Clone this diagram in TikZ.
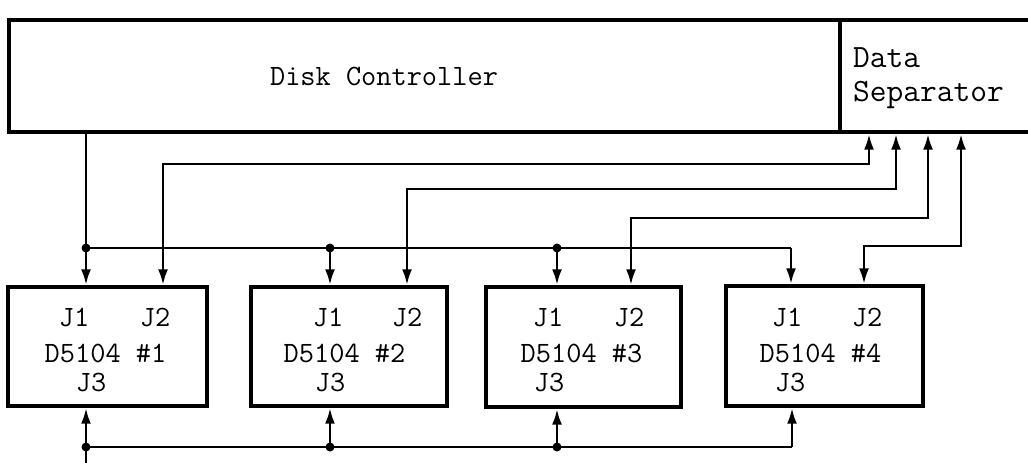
\documentclass[tikz,border=0pt]{standalone}
\usetikzlibrary{arrows.meta}
\begin{document}
\begin{tikzpicture}[x=1pt,y=-1pt,
  boxst/.style={draw,line width=3.4pt,rectangle,inner sep=0pt},
  lbl/.style={inner sep=0pt,font=\fontsize{29.5}{32}\selectfont\ttfamily},
  lblds/.style={inner sep=0pt,font=\fontsize{32.5}{36}\selectfont\ttfamily,anchor=west},
  wire/.style={line width=2.9pt},
  tip/.style={-{Latex[length=16pt,width=10pt]}},
  both/.style={{Latex[length=16pt,width=10pt]}-{Latex[length=16pt,width=10pt]}},
  dot/.style={circle,fill,inner sep=0pt,minimum size=9pt}
]
\useasboundingbox (0,0) rectangle (1028,463);
% top boxes
\node[boxst,minimum width=831pt,minimum height=112pt] (dc) at (424.5,76) {};
\node[boxst,minimum width=200pt,minimum height=112pt] (ds) at (940,76) {};
\node[lbl] (dct) at (384,76) {Disk Controller};
\node[lblds] (dst1) at (853,58) {Data};
\node[lblds] (dst2) at (853,95) {Separator};
% drive boxes
\node[boxst,minimum width=199pt,minimum height=119pt] (b1) at (107.5,346.5) {};
\node[boxst,minimum width=196pt,minimum height=119pt] (b2) at (349,346.5) {};
\node[boxst,minimum width=195pt,minimum height=120pt] (b3) at (583.5,347) {};
\node[boxst,minimum width=197pt,minimum height=120pt] (b4) at (824.5,346) {};
% labels
\node[lbl] (b1j1) at (74,317) {J1};
\node[lbl] (b1j2) at (155,317) {J2};
\node[lbl] (b1n) at (105.5,353) {D5104 \#1};
\node[lbl] (b1j3) at (91,382) {J3};
\node[lbl] (b2j1) at (328,317) {J1};
\node[lbl] (b2j2) at (407,317) {J2};
\node[lbl] (b2n) at (344.5,353) {D5104 \#2};
\node[lbl] (b2j3) at (330,382) {J3};
\node[lbl] (b3j1) at (548,317) {J1};
\node[lbl] (b3j2) at (629,317) {J2};
\node[lbl] (b3n) at (581.5,353) {D5104 \#3};
\node[lbl] (b3j3) at (549,382) {J3};
\node[lbl] (b4j1) at (787,317) {J1};
\node[lbl] (b4j2) at (867,317) {J2};
\node[lbl] (b4n) at (820.5,353) {D5104 \#4};
\node[lbl] (b4j3) at (790,382) {J3};
% J1 bus
\coordinate (ja) at (86,248);
\coordinate (jb) at (330,248);
\coordinate (jc) at (557,248);
\coordinate (jd) at (791,248);
\draw[wire] (dc.south -| ja) -- (ja) -- (jd);
\draw[wire,tip] (ja) -- (b1.north -| ja);
\draw[wire,tip] (jb) -- (b2.north -| jb);
\draw[wire,tip] (jc) -- (b3.north -| jc);
\draw[wire,tip] (jd) -- (b4.north -| jd);
\node[dot] (da) at (ja) {};
\node[dot] (db) at (jb) {};
\node[dot] (dcc) at (jc) {};
% J2 lines
\coordinate (s1) at (869,164);
\coordinate (s2) at (896,189);
\coordinate (s3) at (928,218);
\coordinate (s4) at (961,246);
\coordinate (e1) at (163,164);
\coordinate (e2) at (407,189);
\coordinate (e3) at (631,218);
\coordinate (e4) at (864,246);
\draw[wire,both] (ds.south -| s1) -- (s1) -- (e1) -- (b1.north -| e1);
\draw[wire,both] (ds.south -| s2) -- (s2) -- (e2) -- (b2.north -| e2);
\draw[wire,both] (ds.south -| s3) -- (s3) -- (e3) -- (b3.north -| e3);
\draw[wire,both] (ds.south -| s4) -- (s4) -- (e4) -- (b4.north -| e4);
% J3 bus
\coordinate (ka) at (86,447);
\coordinate (kb) at (330,447);
\coordinate (kc) at (557,447);
\coordinate (kd) at (792,447);
\coordinate (kin) at (86,470);
\draw[wire] (kin) -- (ka) -- (kd);
\draw[wire,tip] (ka) -- (b1.south -| ka);
\draw[wire,tip] (kb) -- (b2.south -| kb);
\draw[wire,tip] (kc) -- (b3.south -| kc);
\draw[wire,tip] (kd) -- (b4.south -| kd);
\node[dot] (ga) at (ka) {};
\node[dot] (gb) at (kb) {};
\node[dot] (gc) at (kc) {};
\end{tikzpicture}
\end{document}
